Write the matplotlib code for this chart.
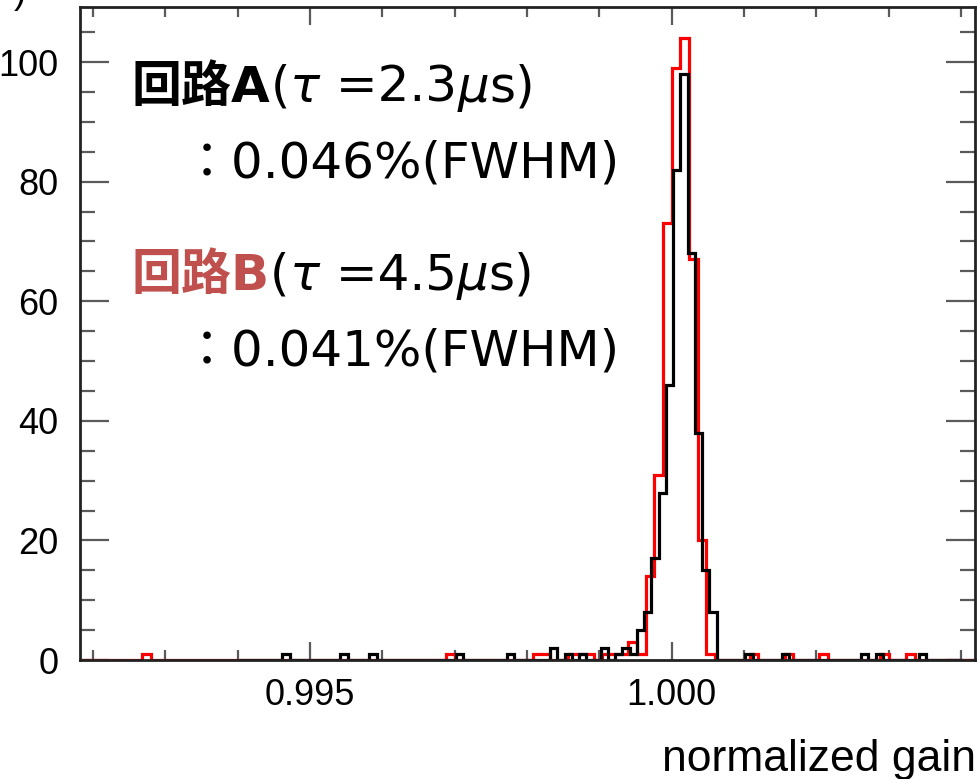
import numpy as np
import matplotlib
matplotlib.use("Agg")
import matplotlib.pyplot as plt
from matplotlib.ticker import MultipleLocator, FormatStrFormatter

# ---------------- data ----------------
# circuit A (black): 0.0001-wide bins
a_range = (0.99402, 1.00402)
a_bin_width = 0.0001
a_centers = [0.99467, 0.99547, 0.99587, 0.99707, 0.99777, 0.99837, 0.99857,
             0.99877, 0.99907, 0.99927, 0.99937, 0.99947, 0.99957, 0.99967,
             0.99977, 0.99987, 0.99997, 1.00007, 1.00017, 1.00027, 1.00037,
             1.00047, 1.00057, 1.00107, 1.00157, 1.00267, 1.00287, 1.00347]
a_counts = [1, 1, 1, 1, 1, 2, 1,
            1, 2, 1, 2, 1, 5, 8,
            17, 28, 46, 82, 98, 68, 38,
            15, 8, 1, 1, 1, 1, 1]

# circuit B (red): 0.00012-wide bins
b_range = (0.9916, 1.0048)
b_bin_width = 0.00012
b_centers = [0.99274, 0.99694, 0.99814, 0.99826, 0.99862, 0.99874, 0.99886,
             0.99910, 0.99922, 0.99934, 0.99946, 0.99958, 0.99970, 0.99982,
             0.99994, 1.00006, 1.00018, 1.00030, 1.00042, 1.00054, 1.00114,
             1.00162, 1.00210, 1.00294, 1.00330]
b_counts = [1, 1, 1, 1, 1, 1, 1,
            1, 1, 1, 3, 1, 14, 31,
            73, 99, 104, 67, 20, 1, 1,
            1, 1, 1, 1]

x_limits = (0.991821, 1.004193)
y_limits = (0, 109.2)
x_major_ticks = [0.995, 1.000]
y_major_ticks = [0, 20, 40, 60, 80, 100]
x_label = "normalized gain"

line_a_title = ["回路A", "(", "τ", " =2.3", "μ", "s)"]
line_a_value = "：0.046%(FWHM)"
line_b_title = ["回路B", "(", "τ", " =4.5", "μ", "s)"]
line_b_value = "：0.041%(FWHM)"

# ---------------- figure ----------------
W, H = 978, 779
fig = plt.figure(figsize=(W / 100, H / 100), dpi=100)
ax = fig.add_axes([80 / W, 1 - 660 / H, (975 - 80) / W, (660 - 7) / H])


def make_edges(rng, w):
    n = int(round((rng[1] - rng[0]) / w))
    return np.linspace(rng[0], rng[1], n + 1)


edges_b = make_edges(b_range, b_bin_width)
hist_b, _ = np.histogram(b_centers, bins=edges_b, weights=b_counts)
edges_a = make_edges(a_range, a_bin_width)
hist_a, _ = np.histogram(a_centers, bins=edges_a, weights=a_counts)

ax.stairs(hist_b, edges_b, color="#ff0000", lw=2.3, zorder=2)
ax.stairs(hist_a, edges_a, color="black", lw=2.3, zorder=3)

ax.set_xlim(*x_limits)
ax.set_ylim(*y_limits)
ax.set_xticks(x_major_ticks)
ax.set_yticks(y_major_ticks)
ax.xaxis.set_minor_locator(MultipleLocator(0.001))
ax.yaxis.set_minor_locator(MultipleLocator(5))
ax.xaxis.set_major_formatter(FormatStrFormatter("%.3f"))

for sp in ax.spines.values():
    sp.set_linewidth(2.0)
    sp.set_color("#222222")
    sp.set_zorder(4)

tick_col = "#5a5a5a"
ax.tick_params(which="both", direction="in", top=True, right=True,
               color=tick_col, width=1.6, labelsize=26)
ax.tick_params(axis="x", which="major", length=13, pad=13)
ax.tick_params(axis="x", which="minor", length=7)
ax.tick_params(axis="y", which="major", length=21, pad=15.5)
ax.tick_params(axis="y", which="minor", length=11)
for lab in ax.get_xticklabels() + ax.get_yticklabels():
    lab.set_fontfamily("Liberation Sans")

fig.text(976 / W, 1 - 771 / H, x_label, ha="right", va="baseline",
         fontsize=32, family="Liberation Sans")

# fragment of a panel label cut by the top edge
fig.text(14 / W, 1 - 3 / H, ")", ha="left", va="baseline",
         fontsize=26, family="Liberation Sans")

# ---------------- annotations ----------------
fig.canvas.draw()
renderer = fig.canvas.get_renderer()
fam = ["DejaVu Sans", "Noto Sans CJK JP"]
fs = 36


def draw_segments(x_px, y_px, segments):
    x = x_px
    for s, kw in segments:
        t = fig.text(x / W, 1 - y_px / H, s, ha="left", va="baseline",
                     fontsize=fs, family=fam, **kw)
        x += t.get_window_extent(renderer).width


def title_segments(parts, color):
    return [(parts[0], dict(weight="bold", color=color)),
            (parts[1], dict(color="black")),
            (parts[2], dict(style="italic", color="black")),
            (parts[3], dict(color="black")),
            (parts[4], dict(style="italic", color="black")),
            (parts[5], dict(color="black"))]


draw_segments(132, 102, title_segments(line_a_title, "black"))
draw_segments(182, 178, [(line_a_value, dict(color="black"))])
draw_segments(132, 290, title_segments(line_b_title, "#c0504d"))
draw_segments(182, 365, [(line_b_value, dict(color="black"))])

fig.savefig("out.png", dpi=100)
